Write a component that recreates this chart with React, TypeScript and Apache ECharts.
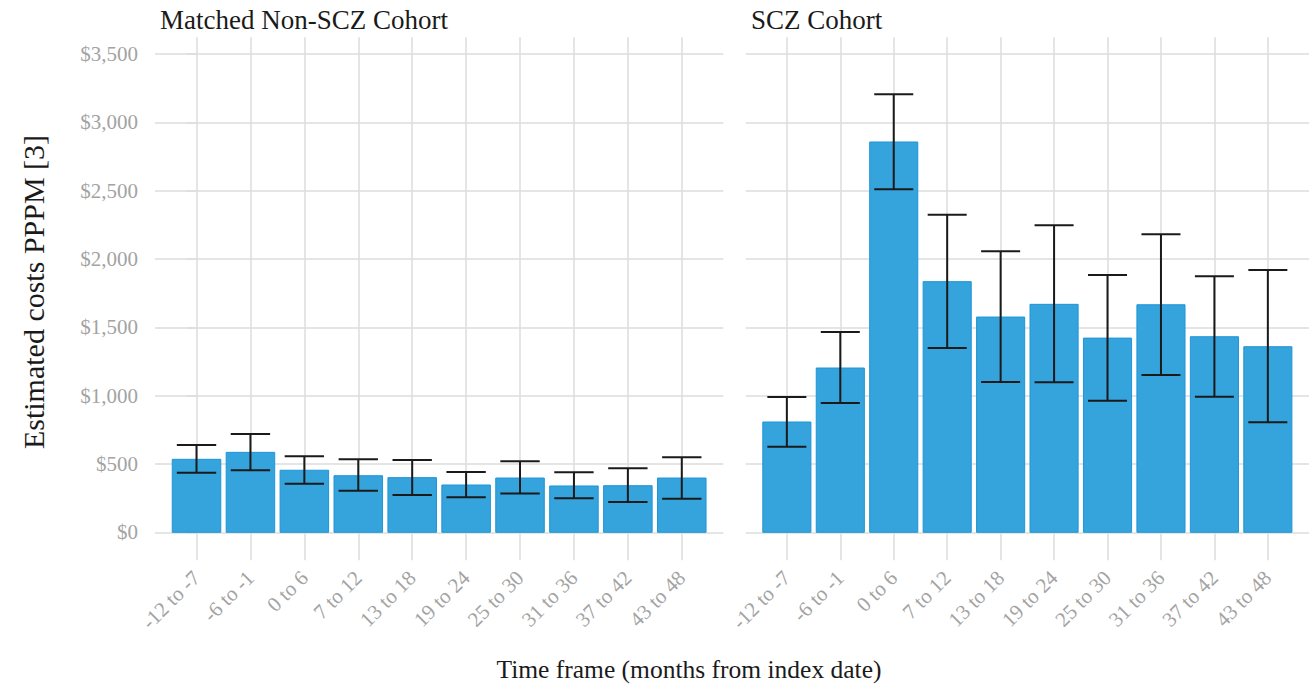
import React, { useEffect, useRef } from "react";
import * as echarts from "echarts";

// Time frames (months from index date)
const categories = [
  "-12 to -7",
  "-6 to -1",
  "0 to 6",
  "7 to 12",
  "13 to 18",
  "19 to 24",
  "25 to 30",
  "31 to 36",
  "37 to 42",
  "43 to 48",
];

// Matched non-SCZ cohort: estimate and 95% CI
const nonSczMean = [534, 585, 454, 414, 400, 346, 397, 339, 341, 397];
const nonSczLower = [436, 454, 356, 304, 273, 256, 283, 249, 222, 246];
const nonSczUpper = [639, 719, 556, 534, 529, 441, 519, 439, 468, 549];

// SCZ cohort: estimate and 95% CI
const sczMean = [807, 1202, 2856, 1834, 1575, 1668, 1421, 1665, 1431, 1358];
const sczLower = [626, 946, 2510, 1349, 1100, 1098, 963, 1151, 992, 805];
const sczUpper = [990, 1465, 3205, 2324, 2056, 2246, 1883, 2180, 1873, 1919];

const yTicks = [0, 500, 1000, 1500, 2000, 2500, 3000, 3500];
const panelTitles = ["Matched Non-SCZ Cohort", "SCZ Cohort"];
const xTitle = "Time frame (months from index date)";
const yTitle = "Estimated costs PPPM [3]";

const FONT = "'Liberation Serif', 'DejaVu Serif', serif";
const GRID_COLOR = "#dcdcdc";
const LABEL_COLOR = "#a3a3a3";
const BAR_FILL = "#35a3dc";
const BAR_STROKE = "#1f95d6";
const ERR_COLOR = "#1a1a1a";

const PAD = 0.77; // discrete-axis expansion on each side (in category units)
const BAR_HALF = 0.45;
const CAP_HALF = 0.365;

const money = (v: number) => "$" + v.toLocaleString("en-US");

function barSeries(gridIdx: number, values: number[]) {
  return {
    type: "custom",
    xAxisIndex: gridIdx,
    yAxisIndex: gridIdx,
    data: values.map((v, i) => [i, v]),
    renderItem: (_params: any, api: any) => {
      const x = api.value(0);
      const v = api.value(1);
      const p0 = api.coord([x - BAR_HALF, v]);
      const p1 = api.coord([x + BAR_HALF, 0]);
      return {
        type: "rect",
        shape: { x: p0[0], y: p0[1], width: p1[0] - p0[0], height: p1[1] - p0[1] },
        style: { fill: BAR_FILL, stroke: BAR_STROKE, lineWidth: 1 },
      };
    },
    z: 3,
  };
}

function errorSeries(gridIdx: number, lower: number[], upper: number[]) {
  return {
    type: "custom",
    xAxisIndex: gridIdx,
    yAxisIndex: gridIdx,
    data: lower.map((lo, i) => [i, lo, upper[i]]),
    renderItem: (_params: any, api: any) => {
      const x = api.value(0);
      const lo = api.coord([x, api.value(1)]);
      const hi = api.coord([x, api.value(2)]);
      const w = api.size([CAP_HALF, 0])[0];
      const style = { stroke: ERR_COLOR, lineWidth: 2 };
      return {
        type: "group",
        children: [
          { type: "line", shape: { x1: hi[0], y1: hi[1], x2: lo[0], y2: lo[1] }, style },
          { type: "line", shape: { x1: hi[0] - w, y1: hi[1], x2: hi[0] + w, y2: hi[1] }, style },
          { type: "line", shape: { x1: lo[0] - w, y1: lo[1], x2: lo[0] + w, y2: lo[1] }, style },
        ],
      };
    },
    z: 4,
  };
}

export default function App() {
  const ref = useRef<HTMLDivElement>(null);

  useEffect(() => {
    if (!ref.current) return;
    const chart = echarts.init(ref.current, undefined, { renderer: "svg" });
    const catIdx = categories.map((_, i) => i);

    const xAxisBase = {
      type: "value",
      min: -PAD,
      max: categories.length - 1 + PAD,
      axisLine: { show: false },
      axisTick: {
        show: true,
        customValues: catIdx,
        length: 28,
        lineStyle: { color: GRID_COLOR, width: 1.5 },
      },
      axisLabel: {
        customValues: catIdx,
        formatter: (v: number) => categories[Math.round(v)] ?? "",
        rotate: 45,
        margin: 42,
        color: LABEL_COLOR,
        fontFamily: FONT,
        fontSize: 21,
      },
      splitLine: { show: true, lineStyle: { color: GRID_COLOR, width: 1.5 } },
    };

    const yAxisBase = {
      type: "value",
      min: 0,
      max: 3622,
      axisLine: { show: false },
      splitLine: { show: true, lineStyle: { color: GRID_COLOR, width: 1.5 } },
    };

    const titleStyle = {
      fontFamily: FONT,
      fill: "#1a1a1a",
      verticalAlign: "middle",
    };

    chart.setOption({
      animation: false,
      backgroundColor: "#ffffff",
      grid: [
        { left: 155, right: 585.7, top: 37.3, bottom: 152.7 },
        { left: 745.7, right: -4.8, top: 37.3, bottom: 152.7 },
      ],
      xAxis: [
        { ...xAxisBase, gridIndex: 0 },
        { ...xAxisBase, gridIndex: 1 },
      ],
      yAxis: [
        {
          ...yAxisBase,
          gridIndex: 0,
          axisTick: {
            show: true,
            customValues: yTicks,
            length: 10,
            lineStyle: { color: GRID_COLOR, width: 1.5 },
          },
          axisLabel: {
            customValues: yTicks,
            formatter: (v: number) => money(v),
            margin: 17,
            color: LABEL_COLOR,
            fontFamily: FONT,
            fontSize: 21,
          },
        },
        {
          ...yAxisBase,
          gridIndex: 1,
          axisTick: { show: false, customValues: yTicks },
          axisLabel: { show: false, customValues: yTicks },
        },
      ],
      series: [
        barSeries(0, nonSczMean),
        errorSeries(0, nonSczLower, nonSczUpper),
        barSeries(1, sczMean),
        errorSeries(1, sczLower, sczUpper),
      ],
      graphic: [
        {
          type: "text",
          x: 160,
          y: 20,
          style: { ...titleStyle, text: panelTitles[0], fontSize: 27, align: "left" },
        },
        {
          type: "text",
          x: 751,
          y: 20,
          style: { ...titleStyle, text: panelTitles[1], fontSize: 27, align: "left" },
        },
        {
          type: "text",
          x: 689,
          y: 669.5,
          style: { ...titleStyle, text: xTitle, fontSize: 25.5, align: "center" },
        },
        {
          type: "text",
          x: 33,
          y: 292,
          rotation: Math.PI / 2,
          style: { ...titleStyle, text: yTitle, fontSize: 30, align: "center" },
        },
      ],
    });

    return () => chart.dispose();
  }, []);

  return (
    <div
      ref={ref}
      style={{ position: "fixed", left: 0, top: 0, width: 1309, height: 685 }}
    />
  );
}
